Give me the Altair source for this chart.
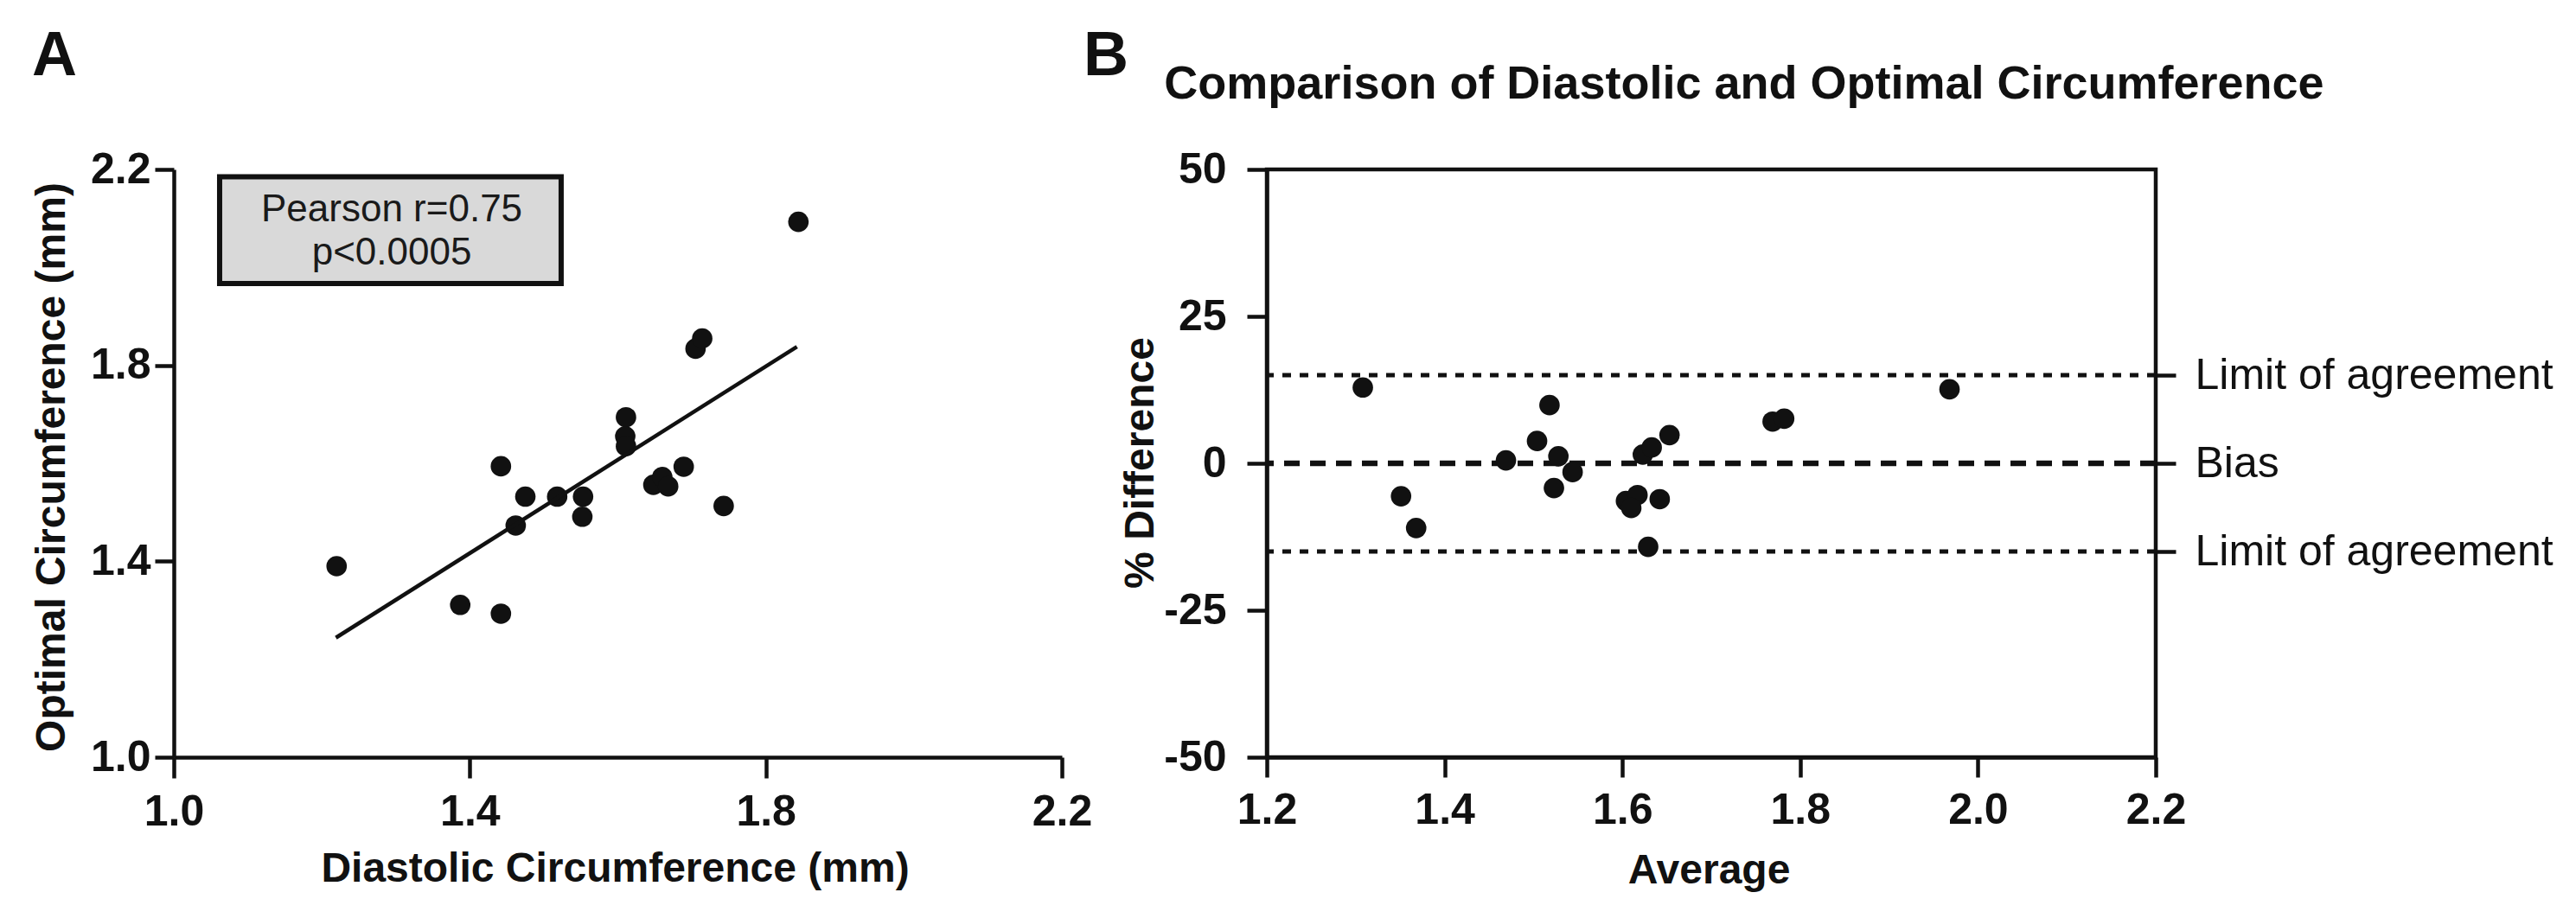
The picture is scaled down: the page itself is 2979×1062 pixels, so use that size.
import altair as alt
import pandas as pd

FONT = "Liberation Sans, Arial, Helvetica, sans-serif"
INK = "#111111"

# ---------------- data ----------------
# Panel A: diastolic vs optimal circumference (mm)
dia = [1.220, 1.387, 1.442, 1.442, 1.462, 1.475, 1.518, 1.553, 1.552, 1.611,
       1.610, 1.611, 1.648, 1.660, 1.668, 1.689, 1.705, 1.714, 1.743, 1.844]
opt = [1.390, 1.311, 1.594, 1.293, 1.473, 1.532, 1.532, 1.532, 1.491, 1.694,
       1.655, 1.635, 1.556, 1.572, 1.553, 1.593, 1.834, 1.855, 1.513, 2.093]
fit_x = [1.219, 1.842]
fit_y = [1.244, 1.838]
a_ticks = [1.0, 1.4, 1.8, 2.2]
stats_lines = ["Pearson r=0.75", "p<0.0005"]

# Panel B: Bland-Altman
avg = [1.308, 1.351, 1.368, 1.469, 1.504, 1.518, 1.528, 1.544, 1.523, 1.604,
       1.617, 1.610, 1.642, 1.629, 1.623, 1.633, 1.653, 1.769, 1.782, 1.968]
pdiff = [12.9, -5.6, -11.0, 0.5, 3.8, 9.9, 1.2, -1.5, -4.2, -6.4,
         -5.4, -7.6, -6.1, -14.2, 1.5, 2.7, 4.8, 7.1, 7.6, 12.6]
bias = [0]
limits = [15, -15]
b_xticks = [1.2, 1.4, 1.6, 1.8, 2.0, 2.2]
b_yticks = [-50, -25, 0, 25, 50]
right_ticks = [-15, 0, 15]

dfA = pd.DataFrame({"x": dia, "y": opt})
dfFit = pd.DataFrame({"x": fit_x, "y": fit_y})
dfBox = pd.DataFrame({"x": [1.0619], "x2": [1.5234], "y": [2.185], "y2": [1.967]})
dfStats = pd.DataFrame({"x": [1.2945, 1.2945], "y": [2.095, 2.0066], "t": stats_lines})
dfB = pd.DataFrame({"x": avg, "y": pdiff})
dfBias = pd.DataFrame({"v": bias})
dfLim = pd.DataFrame({"v": limits})

W_A, W_B, H = 1027, 1028, 680

common_axis = dict(
    labelFont=FONT, titleFont=FONT, labelFontSize=50, titleFontSize=48,
    labelFontWeight="bold", titleFontWeight="bold",
    labelColor=INK, titleColor=INK, domainColor=INK, tickColor=INK,
    domainWidth=4.5, tickWidth=4.5, grid=False, labelFlush=False,
    labelOverlap=False,
)

xA_scale = alt.Scale(domain=[1.0, 2.2], nice=False, zero=False)
yA_scale = alt.Scale(domain=[1.0, 2.2], nice=False, zero=False)

axA_x = alt.Axis(values=a_ticks, format=".1f", title="Diastolic Circumference (mm)",
                 tickSize=24, labelPadding=54, labelBaseline="alphabetic",
                 titleBaseline="alphabetic", titleY=143, titleX=510,
                 titleAlign="center", **common_axis)
axA_y = alt.Axis(values=a_ticks, format=".1f", title="Optimal Circumference (mm)",
                 tickSize=22, labelPadding=5, titleBaseline="alphabetic",
                 titleX=-127, titleY=344, titleAngle=-90, titleAlign="center",
                 **common_axis)

XA = alt.X("x:Q", scale=xA_scale, axis=axA_x)
YA = alt.Y("y:Q", scale=yA_scale, axis=axA_y)

pointsA = alt.Chart(dfA).mark_circle(size=560, color=INK, opacity=1).encode(x=XA, y=YA)
fitA = alt.Chart(dfFit).mark_line(color=INK, strokeWidth=4.5).encode(x=XA, y=YA)
boxA = alt.Chart(dfBox).mark_rect(fill="#d9d9d9", stroke=INK, strokeWidth=6).encode(
    x=XA, x2="x2:Q", y=YA, y2="y2:Q",
)
statsA = alt.Chart(dfStats).mark_text(
    font=FONT, fontSize=44, color="#1a1a1a", align="center", baseline="alphabetic"
).encode(x=XA, y=YA, text="t:N")
labelA = alt.Chart(pd.DataFrame({"t": ["A"]})).mark_text(
    font=FONT, fontSize=72, fontWeight="bold", color=INK, align="left", baseline="alphabetic"
).encode(x=alt.value(-164), y=alt.value(-109), text="t:N")

panelA = alt.layer(pointsA, boxA, statsA, fitA, labelA).properties(width=W_A, height=H)

# ---------------- panel B ----------------
xB_scale = alt.Scale(domain=[1.2, 2.2], nice=False, zero=False)
yB_scale = alt.Scale(domain=[-50, 50], nice=False, zero=False)

axB_x = alt.Axis(values=b_xticks, format=".1f", title="Average",
                 tickSize=23, labelPadding=53, labelBaseline="alphabetic",
                 titleBaseline="alphabetic", titleY=145, titleX=511,
                 titleAlign="center", **common_axis)
axB_y = alt.Axis(values=b_yticks, labelExpr="'' + datum.value", title="% Difference",
                 tickSize=23, labelPadding=24, titleBaseline="alphabetic",
                 titleX=-132, titleY=339, titleAngle=-90, titleAlign="center",
                 **common_axis)
right_common = dict(common_axis)
right_common["labelFontWeight"] = "normal"
axB_r = alt.Axis(orient="right", values=right_ticks, title=None,
                 labelExpr="datum.value == 0 ? 'Bias' : 'Limit of agreement'",
                 labelLimit=2000, tickSize=23, labelPadding=22, domain=False,
                 **right_common)

pointsB = alt.Chart(dfB).mark_circle(size=560, color=INK, opacity=1).encode(
    x=alt.X("x:Q", scale=xB_scale, axis=axB_x),
    y=alt.Y("y:Q", scale=yB_scale, axis=axB_y),
)
limB = alt.Chart(dfLim).mark_rule(color=INK, strokeWidth=5, strokeDash=[10, 10]).encode(
    y=alt.Y("v:Q", scale=yB_scale, axis=None),
)
biasB = alt.Chart(dfBias).mark_rule(color=INK, strokeWidth=6.5, strokeDash=[18, 12]).encode(
    y=alt.Y("v:Q", scale=yB_scale, axis=axB_r),
)
labelB = alt.Chart(pd.DataFrame({"t": ["B"]})).mark_text(
    font=FONT, fontSize=72, fontWeight="bold", color=INK, align="left", baseline="alphabetic"
).encode(x=alt.value(-212), y=alt.value(-109), text="t:N")
titleB = alt.Chart(pd.DataFrame({"t": ["Comparison of Diastolic and Optimal Circumference"]})).mark_text(
    font=FONT, fontSize=54, fontWeight="bold", color=INK, align="center", baseline="alphabetic"
).encode(x=alt.value(552), y=alt.value(-82), text="t:N")

panelB = alt.layer(limB, biasB, pointsB, labelB, titleB).resolve_axis(
    y="independent"
).properties(
    width=W_B, height=H,
    view=alt.ViewBackground(stroke=INK, strokeWidth=4.5),
)

chart = alt.hconcat(panelA, panelB, spacing=237, bounds="flush").properties(
    padding={"left": 27, "top": 18, "right": 5, "bottom": 5},
    background="white",
).configure_view(stroke="transparent")

chart.save("out.html", embed_options={"renderer": "svg", "actions": False})
